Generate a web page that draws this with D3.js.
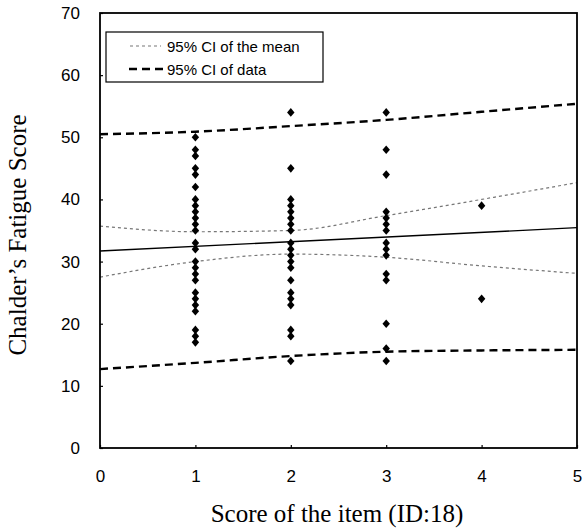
<!DOCTYPE html>
<html>
<head>
<meta charset="utf-8">
<script src="https://cdn.jsdelivr.net/npm/d3@7"></script>
<style>
  body { margin: 0; background: #fff; }
  .tick text { font-family: "Liberation Sans", Arial, sans-serif; font-size: 17px; fill: #000; }
  .title { font-family: "Liberation Serif", "Times New Roman", serif; font-size: 25px; fill: #000; }
  .legend text { font-family: "Liberation Sans", Arial, sans-serif; font-size: 15px; fill: #000; }
</style>
</head>
<body>
<div id="chart"></div>
<script>
// ... values
const xTicks = [0, 1, 2, 3, 4, 5];
const yTicks = [0, 10, 20, 30, 40, 50, 60, 70];

const scores1 = [50, 48, 47, 45, 44, 42, 40, 39, 38, 37, 36, 35, 33, 32, 30, 29, 28, 27, 25, 24, 23, 22, 19, 18, 17];
const scores2 = [54, 45, 40, 39, 38, 37, 36, 35, 33, 32, 31, 30, 29, 27, 25, 24, 23, 19, 18, 14];
const scores3 = [54, 48, 44, 38, 37, 36, 35, 33, 32, 31, 28, 27, 20, 16, 14];
const scores4 = [39, 24];

const lineX = [0, 1, 2, 3, 4, 5];
const meanUpper = [35.7, 34.8, 35.0, 37.4, 40.0, 42.7];
const meanLower = [27.5, 30.0, 31.2, 30.7, 29.3, 28.1];
const dataUpper = [50.5, 50.9, 51.8, 52.8, 54.1, 55.4];
const dataLower = [12.7, 13.7, 14.8, 15.5, 15.7, 15.8];
const fitX = [0, 5];
const fitY = [31.7, 35.45];

const legendLabels = ['95% CI of the mean', '95% CI of data'];

// ... chart area
const W = 583, H = 530;
const margin = {top: 13, right: 6, bottom: 82, left: 100};
const width = W - margin.left - margin.right;
const height = H - margin.top - margin.bottom;

const x = d3.scaleLinear().domain([0, 5]).range([0, width]);
const y = d3.scaleLinear().domain([0, 70]).range([height, 0]);

const svg = d3.select('#chart').append('svg')
    .attr('width', W)
    .attr('height', H);

const g = svg.append('g')
    .attr('transform', 'translate(' + margin.left + ',' + margin.top + ')');

// ... axes
const xAxis = d3.axisBottom(x).tickValues(xTicks).tickSize(-3).tickPadding(22).tickFormat(d3.format('d'));
const yAxis = d3.axisLeft(y).tickValues(yTicks).tickSize(-3).tickPadding(20).tickFormat(d3.format('d'));

g.append('g')
    .attr('transform', 'translate(0,' + height + ')')
    .call(xAxis)
    .call(a => a.select('.domain').remove())
    .call(a => a.selectAll('line').attr('stroke', '#000').attr('stroke-width', 1.2));

g.append('g')
    .call(yAxis)
    .call(a => a.select('.domain').remove())
    .call(a => a.selectAll('line').attr('stroke', '#000').attr('stroke-width', 1.2));

// ... CI lines
const line = d3.line()
    .x(d => x(d[0]))
    .y(d => y(d[1]))
    .curve(d3.curveMonotoneX);

const zip = (xs, ys) => xs.map((v, i) => [v, ys[i]]);

[meanUpper, meanLower].forEach(s => {
    g.append('path')
        .datum(zip(lineX, s))
        .attr('fill', 'none')
        .attr('stroke', '#777')
        .attr('stroke-width', 1.2)
        .attr('stroke-dasharray', '3,3')
        .attr('d', line);
});

[dataUpper, dataLower].forEach(s => {
    g.append('path')
        .datum(zip(lineX, s))
        .attr('fill', 'none')
        .attr('stroke', '#000')
        .attr('stroke-width', 2.4)
        .attr('stroke-dasharray', '8,5')
        .attr('d', line);
});

g.append('path')
    .datum(zip(fitX, fitY))
    .attr('fill', 'none')
    .attr('stroke', '#000')
    .attr('stroke-width', 1.3)
    .attr('d', d3.line().x(d => x(d[0])).y(d => y(d[1])));

// ... points
const diamond = {
    draw(ctx, size) {
        const w = Math.sqrt(size) * 0.62, h = Math.sqrt(size) * 0.72;
        ctx.moveTo(0, -h); ctx.lineTo(w, 0); ctx.lineTo(0, h); ctx.lineTo(-w, 0); ctx.closePath();
    }
};
const points = [].concat(
    scores1.map(v => [1, v]),
    scores2.map(v => [2, v]),
    scores3.map(v => [3, v]),
    scores4.map(v => [4, v])
);
g.selectAll('.pt')
    .data(points)
    .enter().append('path')
    .attr('class', 'pt')
    .attr('transform', d => 'translate(' + x(d[0]) + ',' + y(d[1]) + ')')
    .attr('d', d3.symbol(diamond, 36))
    .attr('fill', '#000');

// ... frame
g.append('rect')
    .attr('width', width)
    .attr('height', height)
    .attr('fill', 'none')
    .attr('stroke', '#000')
    .attr('stroke-width', 1.8);

// ... legend
const lg = g.append('g').attr('class', 'legend').attr('transform', 'translate(6,19)');
lg.append('rect')
    .attr('width', 217)
    .attr('height', 50)
    .attr('fill', '#fff')
    .attr('stroke', '#000')
    .attr('stroke-width', 1.2);
lg.append('line').attr('x1', 24).attr('x2', 55).attr('y1', 14).attr('y2', 14)
    .attr('stroke', '#777').attr('stroke-width', 1.2).attr('stroke-dasharray', '3,3');
lg.append('line').attr('x1', 23).attr('x2', 58).attr('y1', 37).attr('y2', 37)
    .attr('stroke', '#000').attr('stroke-width', 2.4).attr('stroke-dasharray', '8,5');
lg.append('text').attr('x', 61).attr('y', 19.5).text(legendLabels[0]);
lg.append('text').attr('x', 61).attr('y', 42.5).text(legendLabels[1]);

// ... axis titles
svg.append('text')
    .attr('class', 'title')
    .attr('text-anchor', 'middle')
    .attr('transform', 'translate(26,235) rotate(-90)')
    .text('Chalder\u2019s Fatigue Score');

svg.append('text')
    .attr('class', 'title')
    .attr('text-anchor', 'middle')
    .attr('x', 337)
    .attr('y', 522)
    .text('Score of the item (ID:18)');
</script>
</body>
</html>
